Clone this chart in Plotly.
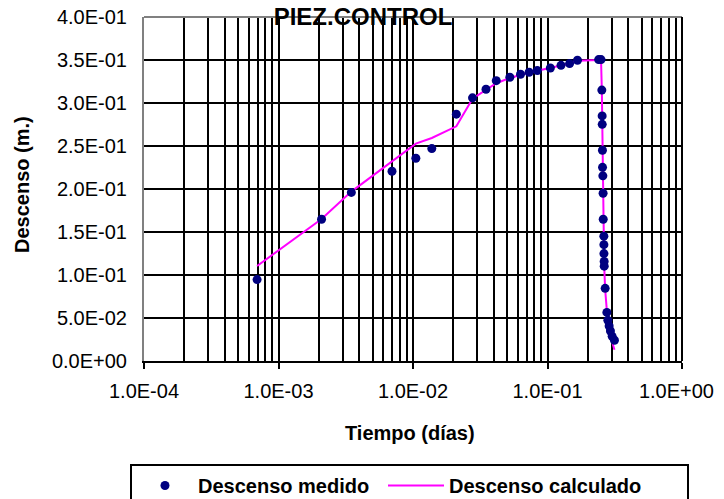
import plotly.graph_objects as go

# ---- data ----
t_dias = [6.93e-4, 2.09e-3, 3.48e-3, 6.98e-3, 1.05e-2, 1.38e-2, 2.10e-2, 2.77e-2, 3.49e-2, 4.16e-2,
          5.25e-2, 6.30e-2, 7.30e-2, 8.40e-2, 1.05e-1, 1.26e-1, 1.46e-1, 1.67e-1, 2.40e-1, 2.50e-1,
          0.2535, 0.2549, 0.2552, 0.2562, 0.2565, 0.2580, 0.2590, 0.2596, 0.2624, 0.2626,
          0.2628, 0.2638, 0.2640, 0.2684, 0.2763, 0.2810, 0.2873, 0.2938, 0.3025, 0.3146]
descenso_medido = [0.0947, 0.1648, 0.1960, 0.2206, 0.2357, 0.2470, 0.2870, 0.3060, 0.3160, 0.3260,
                   0.3300, 0.3334, 0.3357, 0.3377, 0.3407, 0.3438, 0.3458, 0.3497, 0.3505, 0.3505,
                   0.3150, 0.2850, 0.2752, 0.2450, 0.2252, 0.2153, 0.1950, 0.1648, 0.1452, 0.1353,
                   0.1249, 0.1157, 0.1103, 0.0845, 0.0565, 0.0473, 0.0407, 0.0349, 0.0287, 0.0241]
descenso_calculado = [0.1105, 0.1650, 0.1970, 0.2320, 0.2528, 0.2593, 0.2729, 0.3050, 0.3150, 0.3230,
                      0.3290, 0.3330, 0.3355, 0.3375, 0.3405, 0.3435, 0.3460, 0.3490, 0.3500, 0.3505,
                      0.3150, 0.2850, 0.2750, 0.2450, 0.2250, 0.2150, 0.1950, 0.1650, 0.1450, 0.1350,
                      0.1250, 0.1160, 0.1100, 0.0830, 0.0540, 0.0440, 0.0370, 0.0300, 0.0220, 0.0130]

x_tickvals = [1e-4, 1e-3, 1e-2, 1e-1, 1e0]
# the last label carries two no-break spaces so it stays inside the window, like the original
x_ticktext = ["1.0E-04", "1.0E-03", "1.0E-02", "1.0E-01", "1.0E+00\u00a0\u00a0"]
y_tickvals = [0.0, 0.05, 0.10, 0.15, 0.20, 0.25, 0.30, 0.35, 0.40]
y_ticktext = ["0.0E+00", "5.0E-02", "1.0E-01", "1.5E-01", "2.0E-01",
              "2.5E-01", "3.0E-01", "3.5E-01", "4.0E-01"]

FONT = "Liberation Sans, Arial, sans-serif"

fig = go.Figure()
fig.add_trace(go.Scatter(
    x=t_dias, y=descenso_calculado, mode="lines", name="Descenso calculado",
    line=dict(color="#FF00FF", width=2), legendrank=2, legendwidth=233))
fig.add_trace(go.Scatter(
    x=t_dias, y=descenso_medido, mode="markers", name="Descenso medido",
    marker=dict(color="#000080", size=9), legendrank=1, legendwidth=180))

# the page body adds an 8px margin, so the figure is 8px smaller than the window
W, H = 716, 491
L, R, T, B = 136, 42, 9, 138
PW, PH = W - L - R, H - T - B
BOT = H - B  # y pixel of plot bottom inside the figure

fig.update_layout(
    width=W, height=H, autosize=False,
    margin=dict(l=L, r=R, t=T, b=B, pad=0, autoexpand=False),
    paper_bgcolor="white", plot_bgcolor="white",
    font=dict(family=FONT, color="black", size=20),
    title=dict(text="PIEZ.CONTROL", x=(363 - 8) / W, xanchor="center",
               y=1 - 9 / H, yanchor="middle",
               font=dict(family=FONT, size=24, weight="bold", color="black")),
    showlegend=True,
    legend=dict(orientation="h", x=(122 - L) / PW, xanchor="left",
                y=(BOT - 456) / PH, yanchor="top", itemwidth=56,
                entrywidthmode="pixels",
                bordercolor="black", borderwidth=2, bgcolor="white",
                font=dict(family=FONT, size=20, weight="bold", color="black")),
    xaxis=dict(type="log", range=[-4, 0], tickmode="array", tickvals=x_tickvals, ticktext=x_ticktext,
               showgrid=True, gridcolor="black", gridwidth=2,
               minor=dict(dtick="D1", showgrid=True, gridcolor="black", gridwidth=2, ticks=""),
               showline=True, linecolor="black", linewidth=2,
               ticks="outside", ticklen=6, tickwidth=2, tickcolor="black",
               ticklabelstandoff=5, ticklabeloverflow="allow",
               tickfont=dict(family=FONT, size=20, color="black"),
               zeroline=False, automargin=False),
    yaxis=dict(range=[0, 0.4], tickmode="array", tickvals=y_tickvals, ticktext=y_ticktext,
               showgrid=True, gridcolor="black", gridwidth=2,
               showline=True, linecolor="#808080", linewidth=2,
               ticks="", ticklabelstandoff=11, ticklabeloverflow="allow",
               tickfont=dict(family=FONT, size=20, color="black"),
               zeroline=False, automargin=False),
    annotations=[
        dict(text="Descenso (m.)", xref="paper", yref="paper",
             x=(14 - L) / PW, y=(BOT - 177) / PH, xanchor="center", yanchor="middle",
             textangle=-90, showarrow=False,
             font=dict(family=FONT, size=20, weight="bold", color="black")),
        dict(text="Tiempo (días)", xref="paper", yref="paper",
             x=(402 - L) / PW, y=(BOT - 425) / PH, xanchor="center", yanchor="middle",
             showarrow=False,
             font=dict(family=FONT, size=20, weight="bold", color="black")),
    ],
    shapes=[
        dict(type="line", xref="paper", yref="paper", x0=0, x1=1, y0=1, y1=1,
             line=dict(color="#808080", width=2), layer="above"),
        dict(type="line", xref="paper", yref="paper", x0=1, x1=1, y0=0, y1=1,
             line=dict(color="black", width=2), layer="above"),
    ],
)

fig.write_html("out.html")
